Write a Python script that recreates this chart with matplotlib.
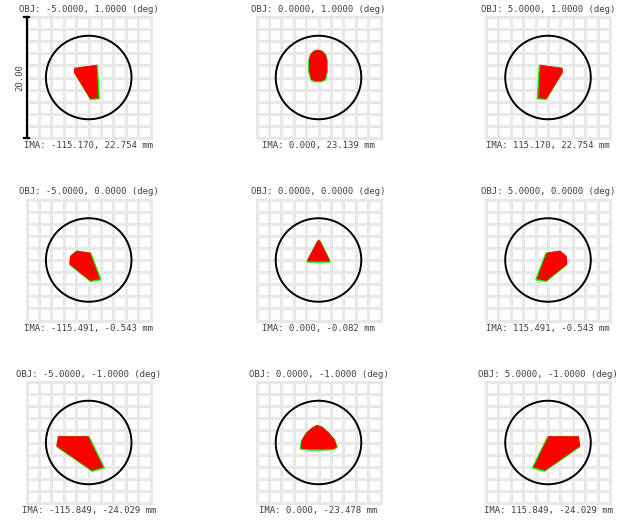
import numpy as np
import matplotlib
matplotlib.use("Agg")
import matplotlib.pyplot as plt
from matplotlib.patches import Circle, Polygon

# field angles (deg) and image heights (mm)
obj_x = [-5.0, 0.0, 5.0]
obj_y = [1.0, 0.0, -1.0]
ima_labels = [
    ["IMA: -115.170, 22.754 mm", "IMA: 0.000, 23.139 mm", "IMA: 115.170, 22.754 mm"],
    ["IMA: -115.491, -0.543 mm", "IMA: 0.000, -0.082 mm", "IMA: 115.491, -0.543 mm"],
    ["IMA: -115.849, -24.029 mm", "IMA: 0.000, -23.478 mm", "IMA: 115.849, -24.029 mm"],
]

# spot outlines (um, relative to chief ray)
spot_edge_top = [(-2.3, 0.8), (-2.2, 1.5), (1.4, 2.0), (1.7, -3.5), (0.35, -3.65)]
spot_center_top = [(-0.1, 4.5), (0.6, 4.3), (1.15, 3.7), (1.4, 2.8), (1.4, 1.0), (1.1, -0.4),
                   (0.5, -0.7), (-0.6, -0.7), (-1.2, -0.4), (-1.55, 1.0), (-1.55, 2.8),
                   (-1.3, 3.7), (-0.8, 4.3)]
spot_edge_mid = [(-3.0, -0.8), (-2.9, 0.55), (-1.85, 1.45), (0.35, 1.1), (1.95, -3.25), (0.35, -3.55)]
spot_center_mid = [(0.05, 3.25), (0.3, 3.0), (1.85, -0.2), (1.7, -0.35), (-1.7, -0.35), (-1.85, -0.2), (-0.2, 3.0)]
spot_edge_bot = [(-5.1, -0.7), (-4.85, 0.95), (0.05, 0.95), (2.5, -4.2), (0.6, -4.75)]
spot_center_bot = [(-2.9, -1.1), (-2.7, 0.3), (-2.0, 1.5), (-1.0, 2.4), (-0.2, 2.8), (0.6, 2.5),
                   (1.7, 1.5), (2.6, 0.4), (3.0, -0.8), (2.5, -1.15), (0.8, -1.25), (-1.2, -1.25)]


def mirror(pts):
    return [(-x, y) for x, y in pts]


spots = [
    [spot_edge_top, spot_center_top, mirror(spot_edge_top)],
    [spot_edge_mid, spot_center_mid, mirror(spot_edge_mid)],
    [spot_edge_bot, spot_center_bot, mirror(spot_edge_bot)],
]
airy_radius = 6.9
box = 20.0

W, H = 627, 520
fig = plt.figure(figsize=(W / 100, H / 100), dpi=100)
fig.patch.set_facecolor("white")

col_left = [26.7, 256.5, 486.0]
row_top = [17.0, 199.5, 382.0]
pw, ph = 124.0, 121.0
txt = "#404040"
mono = "DejaVu Sans Mono"
red_shift = [-0.12, 0.0, 0.12]

for r in range(3):
    for c in range(3):
        ax = fig.add_axes([col_left[c] / W, 1 - (row_top[r] + ph) / H, pw / W, ph / H])
        ax.set_xlim(-box / 2, box / 2)
        ax.set_ylim(-box / 2, box / 2)
        ax.axis("off")
        for g in np.arange(-10, 11, 2):
            ax.plot([g, g], [-10, 10], color="#e8e8e8", lw=2.2, clip_on=False, zorder=1)
            ax.plot([-10, 10], [g, g], color="#e8e8e8", lw=2.2, clip_on=False, zorder=1)
        ax.add_patch(Circle((0, 0), airy_radius, fill=False, ec="black", lw=1.4, zorder=3))
        pts = spots[r][c]
        ax.add_patch(Polygon(pts, closed=True, fc="#00ff00", ec="#00ff00", lw=1.0, zorder=4))
        shifted = [(x + red_shift[c], y + 0.1) for x, y in pts]
        ax.add_patch(Polygon(shifted, closed=True, fc="#ff0000", ec="none", zorder=5))
        ax.annotate(f"OBJ: {obj_x[c]:.4f}, {obj_y[r]:.4f} (deg)", (0.5, 1.0),
                    xycoords="axes fraction", xytext=(0, 5.5), textcoords="offset points",
                    ha="center", va="center", fontsize=6.5, family=mono, color=txt)
        ax.annotate(ima_labels[r][c], (0.5, 0.0), xycoords="axes fraction",
                    xytext=(0, -5.5), textcoords="offset points",
                    ha="center", va="center", fontsize=6.5, family=mono, color=txt)
        if r == 0 and c == 0:
            # scale bar
            ax.plot([-10, -10], [-10, 10], color="black", lw=1.6, clip_on=False, zorder=6)
            for yy in (-10, 10):
                ax.plot([-10.4, -9.6], [yy, yy], color="black", lw=1.6, clip_on=False, zorder=6)
            ax.text(-11.1, 0, f"{box:.2f}", rotation=90, ha="center", va="center",
                    fontsize=6.5, family=mono, color=txt)

fig.savefig("out.png", dpi=100, facecolor="white")
